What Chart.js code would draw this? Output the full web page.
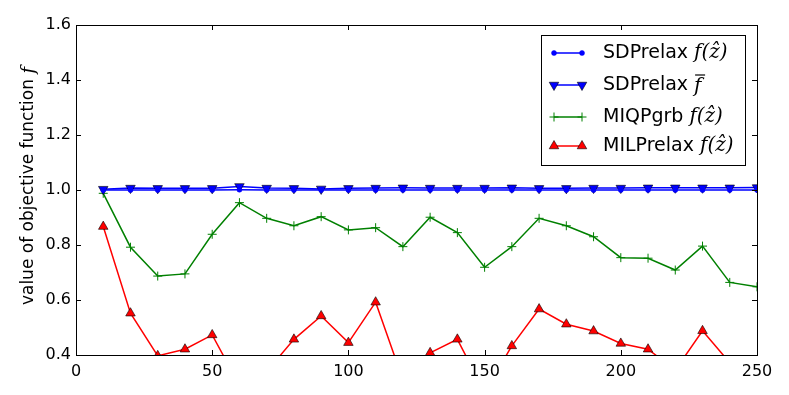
<!DOCTYPE html>
<html>
<head>
<meta charset="utf-8">
<script src="https://cdn.jsdelivr.net/npm/chart.js@4/dist/chart.umd.min.js"></script>
<style>
    html, body { margin: 0; padding: 0; background: #fff; }
    #wrap { width: 789px; height: 395px; }
</style>
</head>
<body>
<div id="wrap"><canvas id="chart" width="789" height="395"></canvas></div>
<script>
// instance sizes
var sizes = [10, 20, 30, 40, 50, 60, 70, 80, 90, 100, 110, 120, 130, 140, 150, 160, 170, 180, 190, 200, 210, 220, 230, 240, 250];

var sdpRelaxF = [1.000, 1.000, 1.000, 1.000, 1.000, 1.001, 1.000, 1.000, 1.000, 1.000, 1.000, 1.000, 1.000, 1.000, 1.000, 1.000, 1.000, 1.000, 1.000, 1.000, 1.000, 1.000, 1.000, 1.000, 1.000];
var sdpRelaxBound = [1.003, 1.007, 1.006, 1.006, 1.006, 1.013, 1.007, 1.006, 1.004, 1.006, 1.007, 1.008, 1.007, 1.007, 1.007, 1.008, 1.006, 1.006, 1.007, 1.007, 1.008, 1.008, 1.008, 1.008, 1.009];
var miqpGrbF = [0.988, 0.792, 0.687, 0.695, 0.839, 0.954, 0.897, 0.870, 0.903, 0.855, 0.863, 0.794, 0.901, 0.845, 0.719, 0.794, 0.897, 0.870, 0.830, 0.754, 0.752, 0.709, 0.796, 0.664, 0.648];
var milpRelaxF = [0.867, 0.552, 0.397, 0.421, 0.473, 0.290, 0.340, 0.457, 0.542, 0.445, 0.592, 0.310, 0.408, 0.457, 0.265, 0.433, 0.567, 0.512, 0.487, 0.442, 0.421, 0.345, 0.488, 0.372, 0.350];

var xTicks = [0, 50, 100, 150, 200, 250];
var yTicks = [0.4, 0.6, 0.8, 1.0, 1.2, 1.4, 1.6];

var seriesNames = ['SDPrelax', 'SDPrelax', 'MIQPgrb', 'MILPrelax'];
var seriesMath = ['f(\u1E91)', 'fbar', 'f(\u1E91)', 'f(\u1E91)'];

function toPoints(values) {
    return values.map(function (v, i) {
        return { x: sizes[i], y: v };
    });
}

// mpl style: ticks pointing inwards on all four sides + full frame
var frameTicks = {
    id: 'frameTicks',
    afterDatasetsDraw: function (chart) {
        var ctx = chart.ctx;
        var a = chart.chartArea;
        var xs = chart.scales.x, ys = chart.scales.y;
        ctx.save();
        ctx.strokeStyle = '#000';
        ctx.lineWidth = 1;
        ctx.strokeRect(Math.round(a.left) + 0.5, Math.round(a.top) + 0.5,
            Math.round(a.right - a.left), Math.round(a.bottom - a.top));
        ctx.beginPath();
        xTicks.forEach(function (t) {
            var px = Math.round(xs.getPixelForValue(t)) + 0.5;
            ctx.moveTo(px, a.bottom); ctx.lineTo(px, a.bottom - 5);
            ctx.moveTo(px, a.top); ctx.lineTo(px, a.top + 5);
        });
        yTicks.forEach(function (t) {
            var py = Math.round(ys.getPixelForValue(t)) + 0.5;
            ctx.moveTo(a.left, py); ctx.lineTo(a.left + 5, py);
            ctx.moveTo(a.right, py); ctx.lineTo(a.right - 5, py);
        });
        ctx.stroke();
        ctx.restore();
    }
};

function drawMath(ctx, kind, x, y) {
    ctx.font = 'italic 20px "DejaVu Serif"';
    ctx.textAlign = 'left';
    ctx.textBaseline = 'middle';
    if (kind === 'fbar') {
        ctx.fillText('f', x, y + 2);
        ctx.beginPath();
        ctx.lineWidth = 1.2;
        ctx.moveTo(x + 1, y - 10);
        ctx.lineTo(x + 11, y - 10);
        ctx.stroke();
    } else {
        ctx.fillText(kind, x, y);
    }
}

function markerOpts(ds) {
    return {
        pointStyle: ds.pointStyle,
        radius: ds.pointRadius,
        rotation: ds.pointRotation || 0,
        borderWidth: ds.pointBorderWidth
    };
}

// legend drawn by hand so every row gets two markers like matplotlib
var mplLegend = {
    id: 'mplLegend',
    afterDraw: function (chart) {
        var ctx = chart.ctx;
        var box = { x: 541, y: 35, w: 204, h: 130 };
        var rows = [53, 85, 117, 146];
        ctx.save();
        ctx.fillStyle = '#fff';
        ctx.fillRect(box.x, box.y, box.w, box.h);
        ctx.strokeStyle = '#000';
        ctx.lineWidth = 1;
        ctx.strokeRect(box.x + 0.5, box.y + 0.5, box.w, box.h);

        chart.data.datasets.forEach(function (ds, i) {
            var y = rows[i];
            ctx.strokeStyle = ds.borderColor;
            ctx.lineWidth = ds.borderWidth;
            ctx.beginPath();
            ctx.moveTo(554, y);
            ctx.lineTo(582, y);
            ctx.stroke();
            [554, 582].forEach(function (mx) {
                ctx.fillStyle = ds.pointBackgroundColor;
                ctx.strokeStyle = ds.pointBorderColor;
                ctx.lineWidth = ds.pointBorderWidth;
                Chart.helpers.drawPoint(ctx, markerOpts(ds), mx, y);
            });
            ctx.fillStyle = '#000';
            ctx.strokeStyle = '#000';
            ctx.font = '19px "DejaVu Sans"';
            ctx.textAlign = 'left';
            ctx.textBaseline = 'middle';
            ctx.fillText(seriesNames[i], 603, y);
            var w = ctx.measureText(seriesNames[i] + ' ').width;
            drawMath(ctx, seriesMath[i], 603 + w, y);
        });
        ctx.restore();
    }
};

var yTitle = {
    id: 'yTitle',
    afterDraw: function (chart) {
        var ctx = chart.ctx;
        var txt = 'value of objective function ';
        ctx.save();
        ctx.translate(29, 186);
        ctx.rotate(-Math.PI / 2);
        ctx.fillStyle = '#000';
        ctx.font = '17px "DejaVu Sans"';
        var w1 = ctx.measureText(txt).width;
        ctx.font = 'italic 18px "DejaVu Serif"';
        var w2 = ctx.measureText('f').width;
        var x0 = -(w1 + w2) / 2;
        ctx.textBaseline = 'middle';
        ctx.textAlign = 'left';
        ctx.font = '17px "DejaVu Sans"';
        ctx.fillText(txt, x0, 0);
        ctx.font = 'italic 18px "DejaVu Serif"';
        ctx.fillText('f', x0 + w1, 0);
        ctx.restore();
    }
};

function buildChart(canvasId) {
    var ctx = document.getElementById(canvasId);
    var datasets = [
        {
            data: toPoints(sdpRelaxF),
            borderColor: '#0000ff', borderWidth: 1.5,
            pointStyle: 'circle', pointRadius: 2.5,
            pointBackgroundColor: '#0000ff', pointBorderColor: '#0000ff', pointBorderWidth: 0.5
        },
        {
            data: toPoints(sdpRelaxBound),
            borderColor: '#0000ff', borderWidth: 1.5,
            pointStyle: 'triangle', pointRotation: 180, pointRadius: 5.5,
            pointBackgroundColor: '#0000ff', pointBorderColor: '#000', pointBorderWidth: 0.6
        },
        {
            data: toPoints(miqpGrbF),
            borderColor: '#008000', borderWidth: 1.5,
            pointStyle: 'cross', pointRadius: 4.5,
            pointBackgroundColor: '#008000', pointBorderColor: '#008000', pointBorderWidth: 1
        },
        {
            data: toPoints(milpRelaxF),
            borderColor: '#ff0000', borderWidth: 1.5,
            pointStyle: 'triangle', pointRadius: 5.5,
            pointBackgroundColor: '#ff0000', pointBorderColor: '#000', pointBorderWidth: 0.6
        }
    ];
    datasets.forEach(function (ds) {
        ds.tension = 0;
        ds.fill = false;
        ds.clip = 0;
        ds.pointHoverRadius = ds.pointRadius;
    });

    return new Chart(ctx, {
        type: 'line',
        data: { datasets: datasets },
        plugins: [frameTicks, mplLegend, yTitle],
        options: {
            responsive: false,
            animation: false,
            layout: { padding: { top: 25, right: 32, left: 0, bottom: 0 } },
            plugins: {
                legend: { display: false },
                tooltip: { enabled: false }
            },
            scales: {
                x: {
                    type: 'linear', min: 0, max: 250,
                    afterFit: function (s) { s.height = 40; },
                    afterBuildTicks: function (s) {
                        s.ticks = xTicks.map(function (v) { return { value: v }; });
                    },
                    grid: { drawOnChartArea: false, drawTicks: false },
                    border: { display: false },
                    ticks: { color: '#000', font: { family: 'DejaVu Sans', size: 16 }, padding: 7, maxRotation: 0 }
                },
                y: {
                    type: 'linear', min: 0.4, max: 1.6,
                    afterFit: function (s) { s.width = 76; },
                    afterBuildTicks: function (s) {
                        s.ticks = yTicks.map(function (v) { return { value: v }; });
                    },
                    grid: { drawOnChartArea: false, drawTicks: false },
                    border: { display: false },
                    ticks: {
                        color: '#000', font: { family: 'DejaVu Sans', size: 16 }, padding: 5,
                        callback: function (v) { return Number(v).toFixed(1); }
                    }
                }
            }
        }
    });
}

buildChart('chart');
</script>
</body>
</html>
